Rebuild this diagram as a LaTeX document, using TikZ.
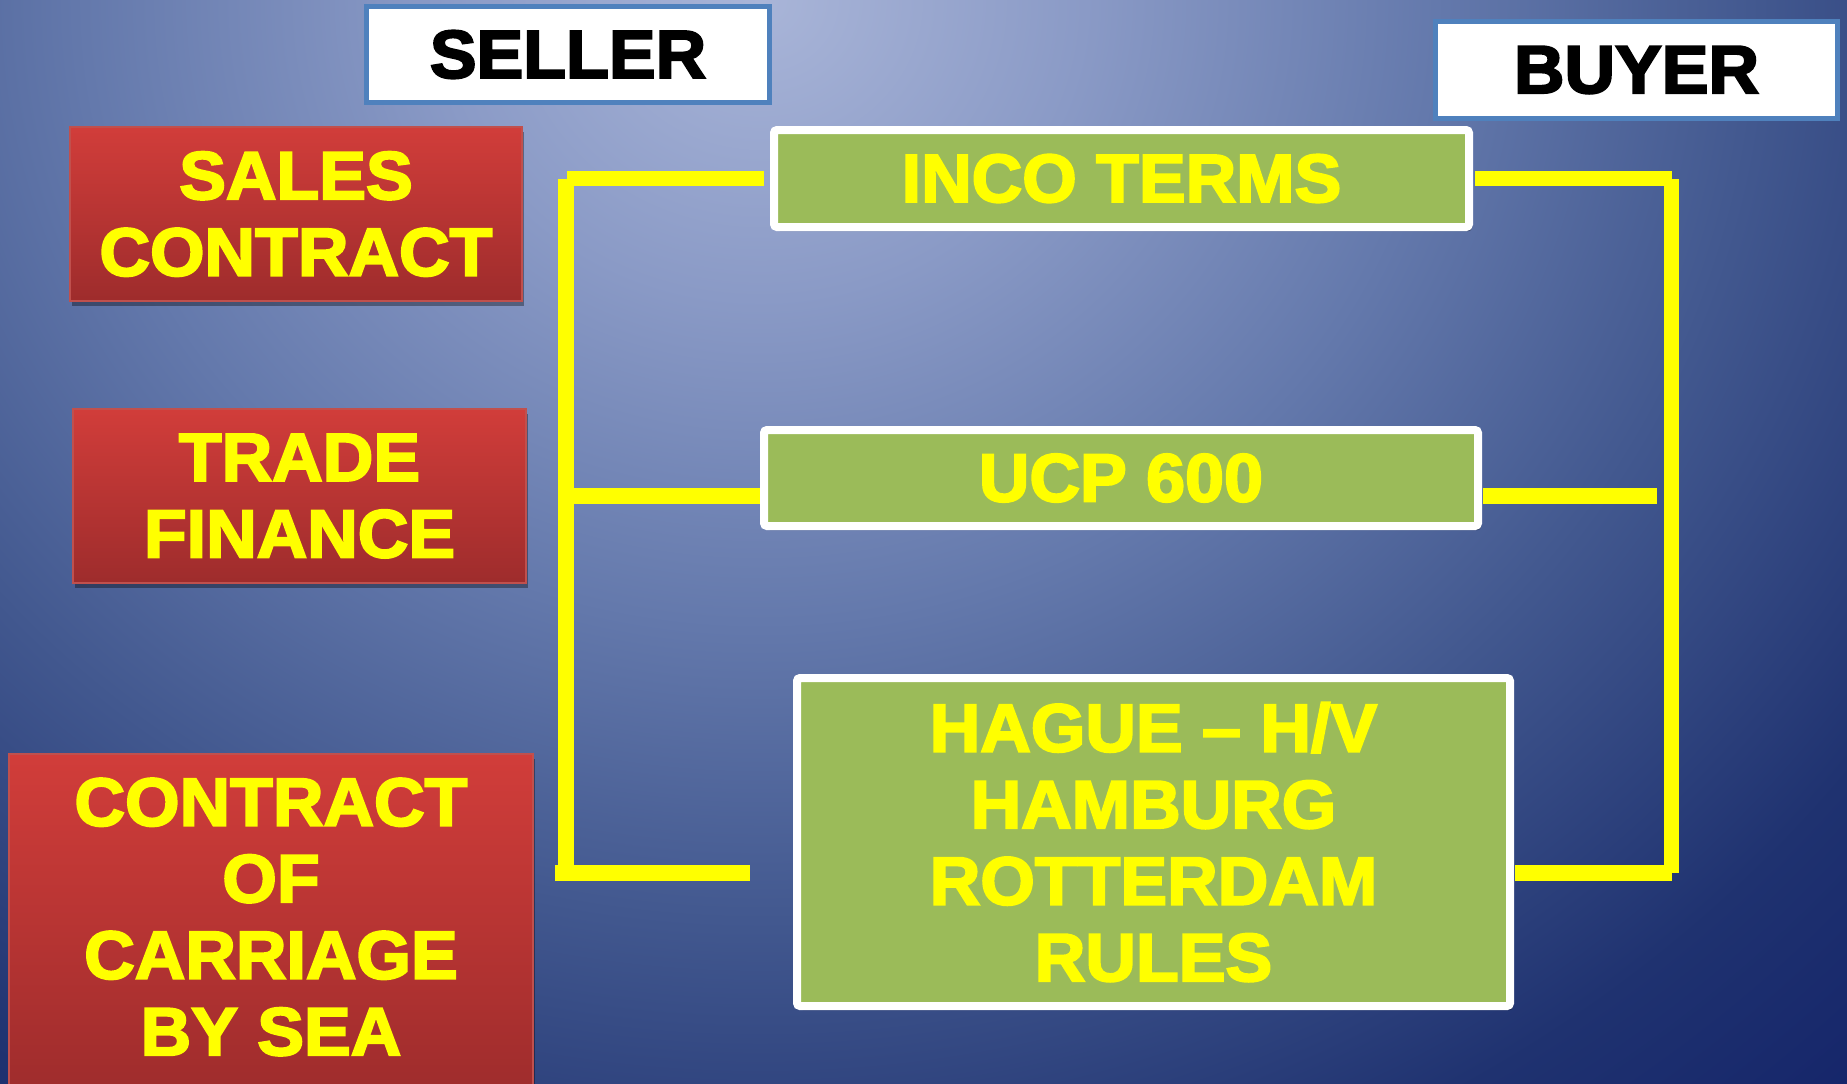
\documentclass[tikz,border=0pt]{standalone}
\usepackage{fontspec}
\newfontfamily\heavy[FakeBold=3,FakeStretch=1.03]{Liberation Sans Bold}
\usetikzlibrary{shadows}
\definecolor{bgA}{HTML}{A9B5D8}
\definecolor{bgB}{HTML}{8A9AC6}
\definecolor{bgC}{HTML}{6479AC}
\definecolor{bgD}{HTML}{42588F}
\definecolor{bgE}{HTML}{1F3270}
\definecolor{bgF}{HTML}{15256A}
\definecolor{redtop}{HTML}{D13D3A}
\definecolor{redbot}{HTML}{9E2C2C}
\definecolor{redline}{HTML}{C0504D}
\definecolor{boxgreen}{HTML}{9BBB59}
\definecolor{labelblue}{HTML}{4F81BD}
\definecolor{ylw}{HTML}{FFFF00}
\pgfdeclareradialshading{bgshade}{\pgfpoint{0bp}{0bp}}{color(0bp)=(bgA); color(4.06bp)=(bgB); color(8.44bp)=(bgC); color(12.5bp)=(bgD); color(17.2bp)=(bgE); color(20.3bp)=(bgF); color(50bp)=(bgF)}
\tikzset{
  bigfont/.style={font=\heavy\fontsize{34pt}{38.25pt}\selectfont},
  redbox/.style={draw=redline, line width=0.75pt, top color=redtop, bottom color=redbot,
    inner sep=0pt, outer sep=0pt, align=center, text=ylw, bigfont,
    drop shadow={shadow xshift=1pt, shadow yshift=-2.5pt, opacity=0.35, fill=black}},
  greenbox/.style={draw=white, line width=4pt, fill=boxgreen, rounded corners=1.5pt,
    inner sep=0pt, outer sep=0pt, align=center, text=ylw, bigfont,
    drop shadow={shadow xshift=1.5pt, shadow yshift=-2pt, opacity=0.35, fill=black}},
  labelbox/.style={draw=labelblue, line width=2.5pt, fill=white, inner sep=0pt,
    outer sep=0pt, text=black, bigfont},
  ytext/.style={text=ylw, bigfont, align=center, inner sep=0pt},
  yline/.style={draw=ylw, line width=7.75pt}
}
\begin{document}
\begin{tikzpicture}[x=0.5pt,y=-0.5pt]
\useasboundingbox (0,0) rectangle (1847,1083);
\clip (0,0) rectangle (1847,1083);
\fill[bgF] (0,0) rectangle (1847,1083);
\shade[shading=bgshade] (760,0) ellipse [x radius=2000, y radius=1840];

% header labels
\node[labelbox, minimum width=201.5pt, minimum height=48pt] (seller) at (568,54.5) {SELLER};
\node[labelbox, minimum width=201pt, minimum height=48.5pt] (buyer) at (1636.5,70) {BUYER};

% red boxes
\node[redbox, minimum width=226pt, minimum height=87pt] (sales) at (296,214) {SALES\\CONTRACT};
\node[redbox, minimum width=226.5pt, minimum height=87pt] (trade) at (299.5,496) {TRADE\\FINANCE};
\node[redbox, minimum width=262pt, minimum height=170.5pt] (carriage) at (271,924.5) {};
\node[ytext] (carriagetext) at (271,917) {CONTRACT\\OF\\CARRIAGE\\BY SEA};

% green boxes
\node[greenbox, minimum width=347.5pt, minimum height=48.5pt] (inco) at (1121.5,178.5) {INCO TERMS};
\node[greenbox, minimum width=357pt, minimum height=48pt] (ucp) at (1121,478) {UCP 600};
\node[greenbox, minimum width=356.5pt, minimum height=164pt] (hague) at (1153.5,842) {HAGUE – H/V\\HAMBURG\\ROTTERDAM\\RULES};

% connector coordinates
\coordinate (ltop) at (567,178.5);
\coordinate (lvt) at (566,179);
\coordinate (lvb) at (566,873);
\coordinate (lbl) at (555,873);
\coordinate (lbr) at (750,873);
\coordinate (lmid) at (566,496);
\coordinate (rtop) at (1671.5,178.5);
\coordinate (rvt) at (1671.5,179);
\coordinate (rvb) at (1671.5,873);
\coordinate (rmid) at (1657,496);
\coordinate (rbot) at (1671.5,873);
\path ([xshift=-5pt]inco.west) coordinate (incow);
\path ([xshift=3pt]inco.east) coordinate (incoe);
\path ([xshift=-2pt]ucp.west) coordinate (ucpw);
\path ([xshift=2.5pt]ucp.east) coordinate (ucpe);
\path ([xshift=2.5pt]hague.east) coordinate (haguee);

% left bracket
\draw[yline] (ltop) -- (incow);
\draw[yline] (lvt) -- (lvb);
\draw[yline] (lbl) -- (lbr);
\draw[yline] (lmid) -- (ucpw |- lmid);
% right bracket
\draw[yline] (incoe) -- (rtop);
\draw[yline] (rvt) -- (rvb);
\draw[yline] (haguee |- rbot) -- (rbot);
\draw[yline] (ucpe |- rmid) -- (rmid);
\end{tikzpicture}
\end{document}
